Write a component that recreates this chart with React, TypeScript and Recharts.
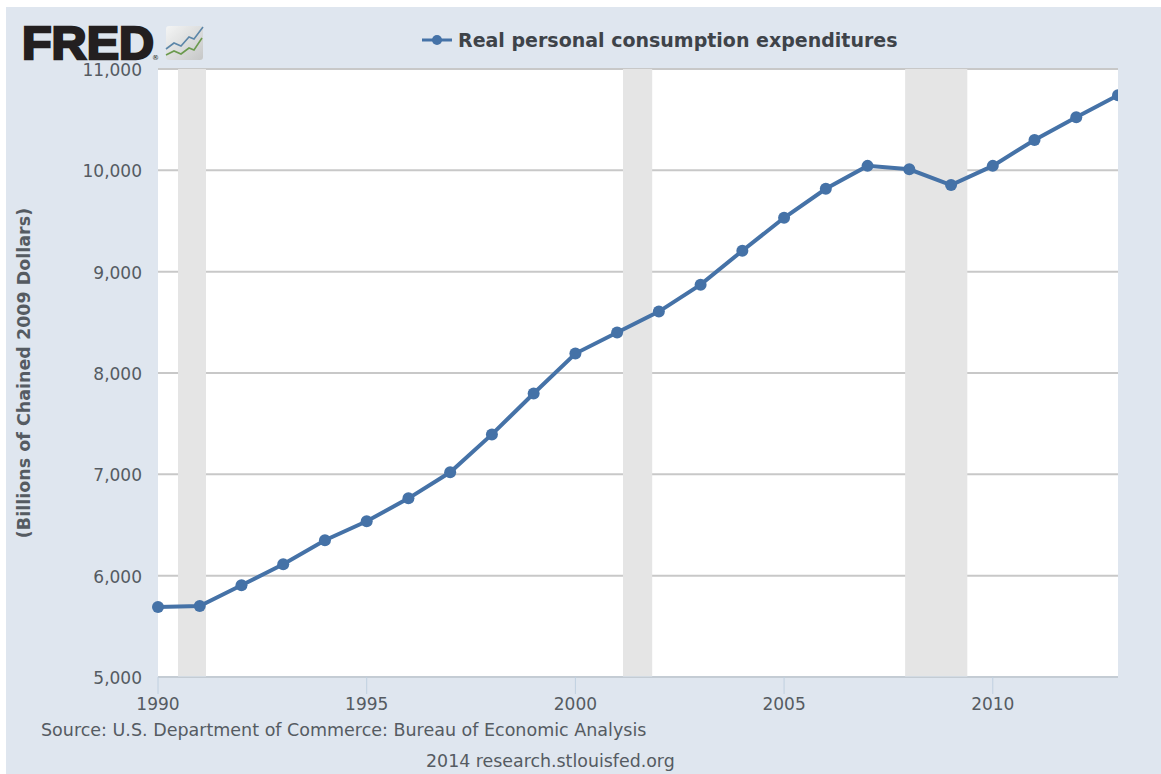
import React from "react";
import { ComposedChart, Line, XAxis, YAxis, CartesianGrid, ReferenceArea, Legend } from "recharts";

const years = [1990,1991,1992,1993,1994,1995,1996,1997,1998,1999,2000,2001,2002,2003,2004,2005,2006,2007,2008,2009,2010,2011,2012,2013];
const consumption = [5690,5700,5906,6113,6350,6537,6763,7020,7394,7798,8192,8399,8606,8872,9207,9532,9818,10044,10010,9855,10044,10300,10525,10740];
const recessions: [number, number][] = [[1990.48,1991.15],[2001.14,2001.84],[2007.9,2009.39]];
const xTicks = [1990,1995,2000,2005,2010];
const yTicks = [5000,6000,7000,8000,9000,10000,11000];
const seriesName = "Real personal consumption expenditures";
const yTitle = "(Billions of Chained 2009 Dollars)";
const sourceText = "Source: U.S. Department of Commerce: Bureau of Economic Analysis";
const creditText = "2014 research.stlouisfed.org";

const rows = years.map((year, i) => ({ year, value: consumption[i] }));
const FONT = '"DejaVu Sans", Verdana, sans-serif';
const BLUE = "#4572a7";
const PANEL = "#dfe6ef";
const GREY_TEXT = "#555b62";

const LegendContent = () => (
  <div style={{ display: "flex", alignItems: "center", fontFamily: FONT, fontWeight: 700, fontSize: 19, lineHeight: "22px", color: "#3e4349", whiteSpace: "nowrap" }}>
    <svg width={30} height={12} style={{ marginRight: 6 }}>
      <line x1={0} y1={6} x2={30} y2={6} stroke={BLUE} strokeWidth={3} />
      <circle cx={15} cy={6} r={5} fill={BLUE} />
    </svg>
    {seriesName}
  </div>
);

const Logo = () => (
  <div style={{ position: "absolute", left: 22, top: 10, width: 200, height: 60 }}>
    <svg width={200} height={60}>
      <text x={0} y={49} fontFamily={'"Liberation Sans", Arial, sans-serif'} fontWeight={700} fontSize={46} fill="#231f20" stroke="#231f20" strokeWidth={2.4} textLength={132} lengthAdjust="spacingAndGlyphs">FRED</text>
      <defs>
        <linearGradient id="logoBg" x1="0" y1="0" x2="1" y2="1">
          <stop offset="0" stopColor="#f4f5f5" />
          <stop offset="1" stopColor="#c6c7c7" />
        </linearGradient>
      </defs>
      <text x={130} y={50} fontFamily={FONT} fontSize={7} fill="#231f20">®</text>
      <rect x={144} y={16} width={37} height={34} rx={3} fill="url(#logoBg)" />
      <polyline points="144,39 152,33 159,36 167,27 172,29 181,17" fill="none" stroke="#5c86a8" strokeWidth={1.6} />
      <polyline points="144,45 152,41 159,44 167,38 172,40 180,28" fill="none" stroke="#6b9a4e" strokeWidth={1.6} />
    </svg>
  </div>
);

export default function App() {
  return (
    <div style={{ position: "absolute", left: 0, top: 0, width: 1161, height: 774, background: "#ffffff", overflow: "hidden" }}>
      <div style={{ position: "absolute", left: 6, top: 7, width: 1155, height: 767, background: PANEL }} />
      <div style={{ position: "absolute", left: 0, top: 0 }}>
        <ComposedChart width={1161} height={774} data={rows} margin={{ top: 47, right: 43, bottom: 67, left: 58 }}>
          <CartesianGrid horizontal vertical={false} stroke="#c8c8c8" strokeWidth={2} fill="#ffffff" fillOpacity={1} />
          {recessions.map(([a, b]) => (
            <ReferenceArea key={a} x1={a} x2={b} y1={5000} y2={11000} fill="#e5e5e5" fillOpacity={1} stroke="none" />
          ))}
          <XAxis
            dataKey="year"
            type="number"
            domain={[1990, 2013]}
            ticks={xTicks}
            tickSize={17}
            axisLine={{ stroke: "#c0d0e0", strokeWidth: 1 }}
            tickLine={{ stroke: "#c0d0e0", strokeWidth: 1 }}
            tick={{ fill: GREY_TEXT, fontFamily: FONT, fontSize: 17, dy: 2 }}
            tickFormatter={(v: number) => String(v)}
          />
          <YAxis
            type="number"
            domain={[5000, 11000]}
            ticks={yTicks}
            axisLine={false}
            tickLine={false}
            width={100}
            tickMargin={10}
            tick={{ fill: GREY_TEXT, fontFamily: FONT, fontSize: 17, dy: 1 }}
            tickFormatter={(v: number) => v.toLocaleString("en-US")}
            label={{ value: yTitle, angle: -90, position: "insideLeft", offset: 0, style: { fontFamily: FONT, fontWeight: 700, fontSize: 17.5, fill: GREY_TEXT, textAnchor: "middle" }, dx: -34 }}
          />
          <Legend verticalAlign="top" content={<LegendContent />} wrapperStyle={{ position: "absolute", left: 422, top: 29, width: 490 }} />
          <Line
            type="linear"
            dataKey="value"
            name={seriesName}
            stroke={BLUE}
            strokeWidth={4}
            dot={{ r: 6, fill: BLUE, stroke: BLUE, strokeWidth: 0 }}
            isAnimationActive={false}
          />
        </ComposedChart>
      </div>
      <div style={{ position: "absolute", left: 1118, top: 60, width: 43, height: 60, background: PANEL }} />
      <Logo />
      <div style={{ position: "absolute", left: 41, top: 720, fontFamily: FONT, fontSize: 17.5, color: GREY_TEXT, whiteSpace: "nowrap" }}>{sourceText}</div>
      <div style={{ position: "absolute", left: 426, top: 751, fontFamily: FONT, fontSize: 17.4, color: GREY_TEXT, whiteSpace: "nowrap" }}>{creditText}</div>
    </div>
  );
}
